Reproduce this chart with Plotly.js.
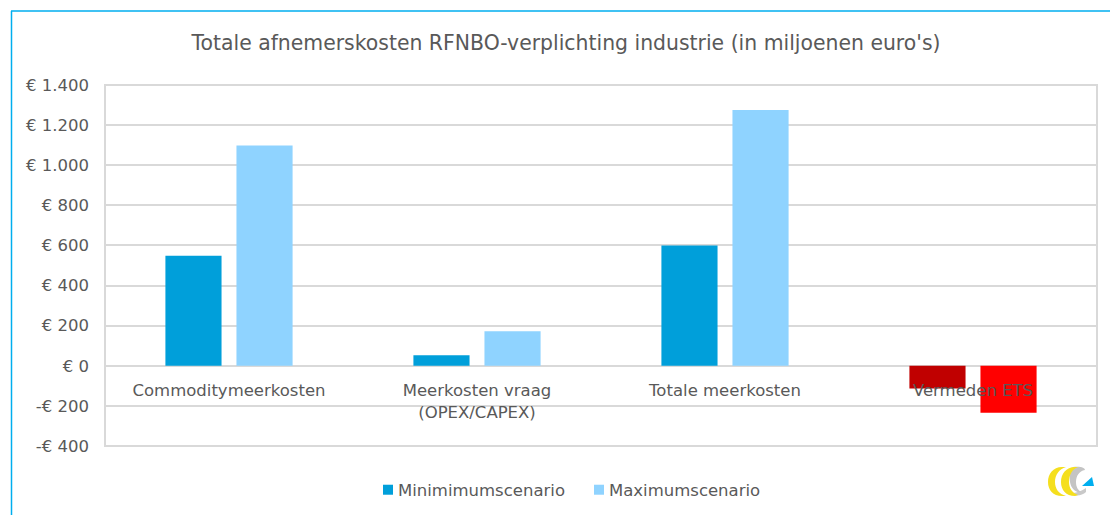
<!DOCTYPE html>
<html><head><meta charset="utf-8">
<script src="https://cdn.plot.ly/plotly-3.0.1.min.js"></script>
<style>html,body{margin:0;padding:0;background:#fff}#c{width:1110px;height:515px}</style>
</head><body><div id="c"></div>
<script>
const categories = ["Commoditymeerkosten","Meerkosten vraag<br>(OPEX/CAPEX)","Totale meerkosten","Vermeden ETS"];
const minValues = [548, 53, 600, -113];
const maxValues = [1098, 172, 1275, -234];
const minColors = ["#009fda","#009fda","#009fda","#c00000"];
const maxColors = ["#8fd3ff","#8fd3ff","#8fd3ff","#ff0000"];
const tickVals = [-400,-200,0,200,400,600,800,1000,1200,1400];
const tickText = ["-€ 400","-€ 200","€ 0","€ 200","€ 400","€ 600","€ 800","€ 1.000","€ 1.200","€ 1.400"];
const W=1110,H=515,L=105,R=1097,T=85,B=446;
const px=x=>(x-L)/(R-L), py=y=>(B-y)/(B-T);
const FONT='"DejaVu Sans", sans-serif', TXT='#595959', GRID='#d9d9d9', FS=16.5;
const P=(pts)=>pts.replace(/(-?\d+\.?\d*),(-?\d+\.?\d*)/g,(m,a,b)=>px(+a)+' '+py(+b));
const logo=(d,c)=>({type:'path',xref:'paper',yref:'paper',path:P(d),fillcolor:c,line:{width:0},layer:'above'});
const data=[
 {type:'bar',name:'Minimimumscenario',x:categories,y:minValues,marker:{color:minColors},hoverinfo:'x+y'},
 {type:'bar',name:'Maximumscenario',x:categories,y:maxValues,marker:{color:maxColors},hoverinfo:'x+y'}
];
const shapes=[
 {type:'rect',xref:'paper',yref:'paper',x0:0,x1:1,y0:0,y1:1,line:{color:GRID,width:2},layer:'below'},
 {type:'line',xref:'paper',yref:'paper',x0:px(11.5),x1:px(11.5),y0:py(11),y1:py(515),line:{color:'#00aeef',width:1.5},layer:'below'},
 {type:'line',xref:'paper',yref:'paper',x0:px(11),x1:px(1110),y0:py(11),y1:py(11),line:{color:'#00aeef',width:1.5},layer:'below'},
 logo('M 1086,492 C 1082,496 1074,497 1071,493 C 1076,493 1082,491 1086,488 Z','#c9c9c9'),
 logo('M 1073,467 C 1081,466 1085,468 1085,470 C 1079,471 1076,476 1076,482 C 1076,487 1078,490 1081,492 C 1075,493 1071,488 1070,482 C 1069,475 1070,470 1073,467 Z','#c4c4c4'),
 logo('M 1062,467 C 1053,467 1048,474 1048,482 C 1048,490 1053,496 1062,496 L 1066,496 C 1059,494 1055,489 1055,482 C 1055,475 1059,469 1066,467 Z','#f5df1e'),
 logo('M 1075,467 C 1066,467 1061,474 1061,482 C 1061,490 1066,496 1075,496 L 1078,495 C 1072,493 1069,488 1069,482 C 1069,475 1072,469 1078,467 Z','#f5df1e'),
 logo('M 1082,486 L 1094,486 L 1092,477 Z','#00aeef')
];
const layout={
 width:W,height:H,margin:{l:L,r:W-R,t:T,b:H-B,pad:0,autoexpand:false},
 paper_bgcolor:'#fff',plot_bgcolor:'#fff',
 font:{family:FONT,color:TXT,size:FS},
 title:{text:"Totale afnemerskosten RFNBO-verplichting industrie (in miljoenen euro's)",font:{family:FONT,size:20.4,color:TXT},x:566/W,xanchor:'center',y:1-43/H,yanchor:'middle'},
 barmode:'group',bargap:0.427,bargroupgap:0.21,
 xaxis:{type:'category',anchor:'free',position:400/1800,showline:false,showgrid:false,zeroline:false,ticks:'',tickfont:{family:FONT,size:FS,color:TXT},ticklabelstandoff:13,automargin:false,fixedrange:true},
 yaxis:{range:[-400,1400],tickmode:'array',tickvals:tickVals,ticktext:tickText,showgrid:true,gridcolor:GRID,gridwidth:2,zeroline:true,zerolinecolor:GRID,zerolinewidth:2,showline:false,ticks:'',tickfont:{family:FONT,size:FS,color:TXT},ticklabelstandoff:15,automargin:false,fixedrange:true},
 legend:{orientation:'h',x:px(570),xanchor:'center',y:py(490),yanchor:'middle',font:{family:FONT,size:FS,color:TXT},itemwidth:30,traceorder:'normal'},
 shapes:shapes
};
Plotly.newPlot('c',data,layout,{displayModeBar:false}).then(gd=>{
 // tighten the legend entries: small swatch close to its label
 const targets=[383,594];
 gd.querySelectorAll('.legend .traces').forEach((t,i)=>{
  const sw=t.querySelector('.legendpoints path');
  const txt=t.querySelector('.legendtext');
  const m=/translate\(([-\d.]+)[ ,]*([-\d.]*)\)/.exec(t.getAttribute('transform')||'');
  const tx=m?+m[1]:0, ty=m?+m[2]||0:0;
  const r=sw.getBoundingClientRect();
  t.setAttribute('transform',`translate(${tx+targets[i]-r.left},${ty})`);
  sw.setAttribute('d','M5,5H-5V-5H5Z');
  const r2=sw.getBoundingClientRect();
  const dx=targets[i]-r2.left;
  t.setAttribute('transform',`translate(${tx+targets[i]-r.left+dx},${ty})`);
  const r3=sw.getBoundingClientRect();
  const tr=txt.getBoundingClientRect();
  txt.setAttribute('x',(+txt.getAttribute('x'))-(tr.left-r3.right)+5);
 });
 const legendClip=gd.querySelector('.legend .scrollbox');
 if(legendClip) legendClip.removeAttribute('clip-path');
 const lg=gd.querySelector('.legend');
 if(lg) lg.removeAttribute('clip-path');
});
</script></body></html>
